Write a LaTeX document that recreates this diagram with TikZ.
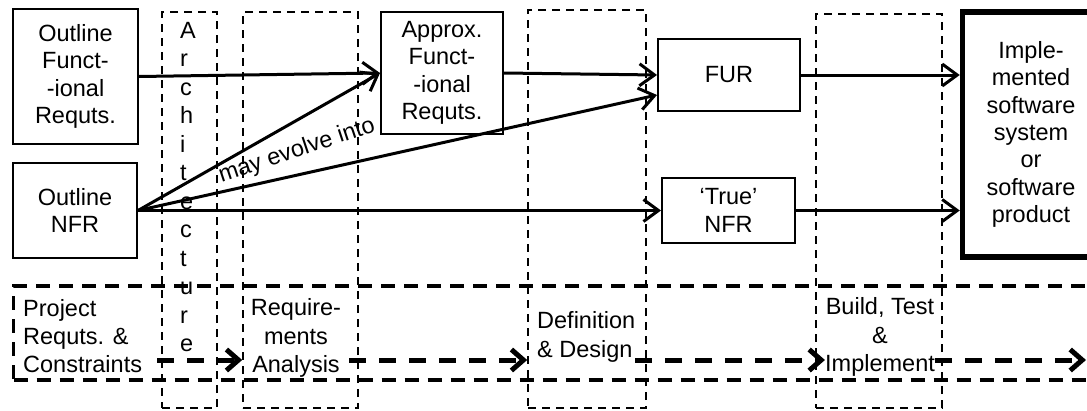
\documentclass[tikz,border=0pt]{standalone}
\usepackage{fontspec}
\setmainfont{Liberation Sans}
\usetikzlibrary{arrows.meta,calc}
\begin{document}
\begin{tikzpicture}[x=1pt,y=-1pt,
  every node/.style={font=\fontsize{23.5}{27.3}\selectfont, inner sep=0pt},
  lower/.style={font=\fontsize{23.5}{28.2}\selectfont},
  box/.style={draw, line width=2pt, align=center},
  phase/.style={draw, line width=1.6pt, dash pattern=on 8pt off 6pt},
  band/.style={draw, line width=3.2pt, dash pattern=on 14pt off 9pt},
  arr/.style={line width=3pt, -{Straight Barb[length=15pt,width=22pt]}},
  bigarr/.style={line width=5pt, dash pattern=on 17pt off 13pt, -{Straight Barb[length=12pt,width=21pt]}},
]
\clip (0,0) rectangle (1087,410);
\fill[white] (0,0) rectangle (1087,410);

% phase boxes
\node[phase, minimum width=55pt, minimum height=396pt] (archbox) at (189.5,210) {};
\node[phase, minimum width=115pt, minimum height=396pt] (reqbox) at (300.5,210) {};
\node[phase, minimum width=118pt, minimum height=398pt] (defbox) at (587,209) {};
\node[phase, minimum width=126pt, minimum height=394pt] (buildbox) at (879,211) {};
\node[band, minimum width=1086.5pt, minimum height=94pt] (bandbox) at (556.75,333) {};

% main boxes
\node[box, minimum width=125pt, minimum height=135pt] (ofr) at (75.5,76.5) {Outline\\Funct-\\-ional\\Requts.};
\node[box, minimum width=124pt, minimum height=95pt] (onfr) at (75,210.5) {Outline\\NFR};
\node[box, minimum width=122pt, minimum height=122pt] (approx) at (442,73) {Approx.\\Funct-\\-ional\\Requts.};
\node[box, minimum width=142pt, minimum height=72pt] (fur) at (729,75) {FUR};
\node[box, minimum width=133pt, minimum height=65pt] (tnfr) at (728.5,210.5) {`True'\\NFR};
\node[box, line width=5.5pt, minimum width=137pt, minimum height=245pt] (impl) at (1031,134.5) {Imple-\\mented\\software\\system\\or\\software\\product};

% texts
\node[align=left, anchor=north west, font=\fontsize{23.5}{28.5}\selectfont] (archtxt) at (180,22) {A\\r\\c\\h\\i\\t\\e\\c\\t\\u\\r\\e};
\node[lower, align=left, anchor=west] (proj) at (23,336) {Project\\Requts. \&\\Constraints};
\node[lower, align=center] (reqa) at (296,338) {Require-\\ments\\Analysis};
\node[lower, align=left, anchor=west] (defd) at (537,337) {Definition\\\& Design};
\node[lower, align=center] (btest) at (880,337) {Build, Test\\\&\\Implement};
\node[rotate=18.5] (evolve) at (297,151) {may evolve into};

% solid arrows
\draw[arr] (ofr.east) -- (approx.west);
\draw[arr] (onfr.east) -- (approx.west);
\draw[arr] (onfr.east) -- ([yshift=-20pt]fur.west);
\draw[arr] (onfr.east) -- (tnfr.west);
\draw[arr] (approx.east) -- (fur.west);
\draw[arr] (fur.east) -- (fur.east -| impl.west);
\draw[arr] (tnfr.east) -- (tnfr.east -| impl.west);

% process flow
\coordinate (flow) at (0,360);
\coordinate (flowend) at (1086,360);
\draw[bigarr] ($(proj.east |- flow)+(15,0)$) -- (reqbox.west |- flow);
\draw[bigarr] ($(reqa.east |- flow)+(8,0)$) -- (defbox.west |- flow);
\draw[bigarr] (defd.east |- flow) -- (btest.west |- flow);
\draw[bigarr] (btest.east |- flow) -- (flowend);
\end{tikzpicture}
\end{document}
